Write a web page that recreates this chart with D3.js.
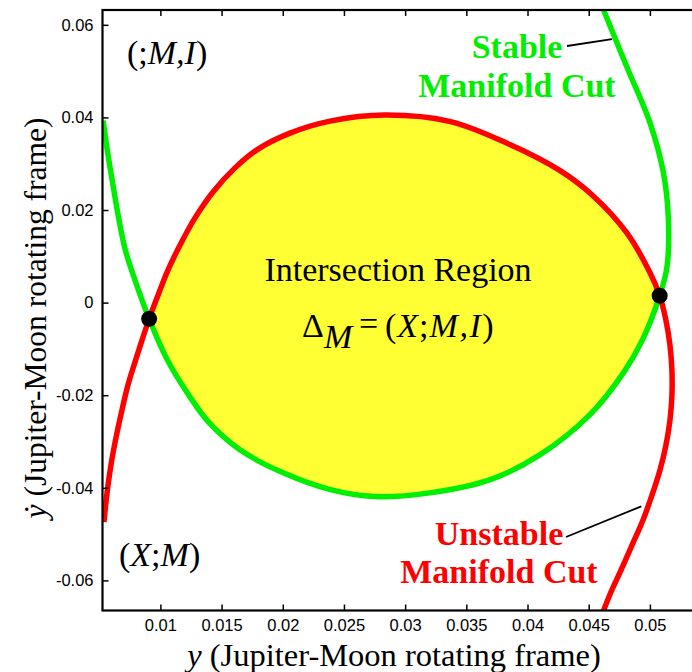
<!DOCTYPE html>
<html>
<head>
<meta charset="utf-8">
<script src="https://cdn.jsdelivr.net/npm/d3@7"></script>
<style>
  body { margin: 0; background: #fff; }
  svg { display: block; }
</style>
</head>
<body>
<svg id="chart" width="692" height="672"></svg>
<script>
// Axis ticks
const xTicks = [0.01, 0.015, 0.02, 0.025, 0.03, 0.035, 0.04, 0.045, 0.05];
const xTickLabels = ["0.01", "0.015", "0.02", "0.025", "0.03", "0.035", "0.04", "0.045", "0.05"];
const yTicks = [-0.06, -0.04, -0.02, 0, 0.02, 0.04, 0.06];
const yTickLabels = ["-0.06", "-0.04", "-0.02", "0", "0.02", "0.04", "0.06"];

// Unstable manifold cut (y, ydot), bottom-left to bottom-right
const unstableCut = [
  [0.00539, -0.0474], [0.00564, -0.0411], [0.00596, -0.0351], [0.00637, -0.0292],
  [0.00686, -0.0232], [0.00735, -0.0178], [0.00793, -0.0128], [0.00850, -0.0081],
  [0.00908, -0.0035], [0.00981, 0.0016], [0.01062, 0.0070], [0.01160, 0.0124],
  [0.01283, 0.0183], [0.01430, 0.0239], [0.01610, 0.0291], [0.01789, 0.0330],
  [0.02059, 0.0366], [0.02386, 0.0392], [0.02835, 0.0405], [0.0337, 0.0391],
  [0.0386, 0.0341], [0.0426, 0.0286], [0.0453, 0.0232], [0.0481, 0.0151],
  [0.0500, 0.0065], [0.0508, 0.0015], [0.05131, -0.0038], [0.05164, -0.0092],
  [0.05180, -0.0146], [0.05180, -0.0200], [0.05164, -0.0254], [0.05131, -0.0308],
  [0.05082, -0.0362], [0.05017, -0.0416], [0.04943, -0.0470], [0.04854, -0.0524],
  [0.04764, -0.0578], [0.04682, -0.0625], [0.04617, -0.0668]
];

// Stable manifold cut (y, ydot), top-left to top-right
const stableCut = [
  [0.00532, 0.0393], [0.00565, 0.0331], [0.00605, 0.0266], [0.00654, 0.0190],
  [0.00712, 0.0115], [0.0081, 0.0035], [0.00908, -0.0035], [0.01055, -0.0123],
  [0.0124, -0.0203], [0.0140, -0.0260], [0.0165, -0.0318], [0.0198, -0.0365],
  [0.0239, -0.0404], [0.0275, -0.0419], [0.0320, -0.0411], [0.0369, -0.0383],
  [0.0410, -0.0329], [0.0451, -0.0242], [0.0479, -0.0149], [0.0494, -0.0080],
  [0.0508, 0.0015], [0.0514, 0.0078], [0.0515, 0.0186], [0.0511, 0.0281],
  [0.0500, 0.0389], [0.0481, 0.0510], [0.0462, 0.0633]
];

// Points where the two cuts cross
const crossings = [[0.00908, -0.0035], [0.0508, 0.0015]];

// Where the callout leaders touch each curve
const stableLeaderEnd = [0.0469, 0.0569];
const unstableLeaderEnd = [0.0493, -0.0440];

const svg = d3.select("#chart");
const plot = { left: 102.5, right: 691.5, top: 10, bottom: 610.5 };

const x = d3.scaleLinear().domain([0.00527, 0.0534]).range([plot.left, plot.right]);
const y = d3.scaleLinear().domain([-0.0665, 0.0632]).range([plot.bottom, plot.top]);

const serif = "'Liberation Serif', 'Times New Roman', serif";
const sans = "'Liberation Sans', Arial, Helvetica, sans-serif";

svg.append("defs").append("clipPath").attr("id", "plotClip")
  .append("rect")
  .attr("x", plot.left).attr("y", plot.top)
  .attr("width", 700 - plot.left).attr("height", plot.bottom - plot.top);

const line = d3.line()
  .x(d => x(d[0])).y(d => y(d[1]))
  .curve(d3.curveCatmullRom.alpha(0.5));

const same = (a, b) => a[0] === b[0] && a[1] === b[1];
const uA = unstableCut.findIndex(p => same(p, crossings[0]));
const uB = unstableCut.findIndex(p => same(p, crossings[1]));
const sA = stableCut.findIndex(p => same(p, crossings[0]));
const sB = stableCut.findIndex(p => same(p, crossings[1]));

const g = svg.append("g").attr("clip-path", "url(#plotClip)");

// Intersection region: upper boundary from the unstable cut, lower from the stable cut
const upper = unstableCut.slice(uA, uB + 1);
const lower = stableCut.slice(sA, sB + 1);
g.append("path")
  .attr("d", line(upper) + line(lower.slice().reverse()).replace(/^M/, "L") + "Z")
  .attr("fill", "#ffff33")
  .attr("stroke", "none");

g.append("path")
  .attr("d", line(stableCut))
  .attr("fill", "none")
  .attr("stroke", "#00ee00")
  .attr("stroke-width", 5.5);

g.append("path")
  .attr("d", line(unstableCut))
  .attr("fill", "none")
  .attr("stroke", "#ff0000")
  .attr("stroke-width", 5.5);

g.selectAll("circle.crossing")
  .data(crossings)
  .join("circle")
  .attr("class", "crossing")
  .attr("cx", d => x(d[0])).attr("cy", d => y(d[1]))
  .attr("r", 8)
  .attr("fill", "#000");

// Axes with inward ticks
const styleAxis = sel => {
  sel.select(".domain").remove();
  sel.selectAll(".tick line").attr("stroke", "#000").attr("stroke-width", 1.5);
  sel.selectAll(".tick text").attr("fill", "#000").style("font-family", sans).style("font-size", "16.5px");
};

svg.append("g")
  .attr("transform", `translate(0,${plot.bottom})`)
  .call(d3.axisBottom(x).tickValues(xTicks).tickFormat((d, i) => xTickLabels[i])
    .tickSizeInner(-6).tickSizeOuter(0).tickPadding(9))
  .call(styleAxis);

svg.append("g")
  .attr("transform", `translate(0,${plot.top})`)
  .call(d3.axisTop(x).tickValues(xTicks).tickFormat("")
    .tickSizeInner(-6).tickSizeOuter(0))
  .call(styleAxis);

svg.append("g")
  .attr("transform", `translate(${plot.left},0)`)
  .call(d3.axisLeft(y).tickValues(yTicks).tickFormat((d, i) => yTickLabels[i])
    .tickSizeInner(-6).tickSizeOuter(0).tickPadding(9))
  .call(styleAxis);

// Frame
svg.append("rect")
  .attr("x", plot.left).attr("y", plot.top)
  .attr("width", 720 - plot.left).attr("height", plot.bottom - plot.top)
  .attr("fill", "none").attr("stroke", "#000").attr("stroke-width", 2.2);

// Axis titles
const xTitle = svg.append("text")
  .attr("x", 394).attr("y", 666)
  .attr("text-anchor", "middle")
  .style("font-family", serif).style("font-size", "32.5px");
xTitle.append("tspan").style("font-style", "italic").text("y");
xTitle.append("tspan").text(" (Jupiter-Moon rotating frame)");

const yTitle = svg.append("text")
  .attr("transform", "translate(46,318) rotate(-90)")
  .attr("text-anchor", "middle")
  .style("font-family", serif).style("font-size", "31.5px");
yTitle.append("tspan").style("font-style", "italic").text("y\u0307");
yTitle.append("tspan").text(" (Jupiter-Moon rotating frame)");

// Set labels (roman / italic runs, optional baseline shift and spacing)
function mathText(parent, xPos, yPos, parts, size, anchor) {
  const t = parent.append("text")
    .attr("x", xPos).attr("y", yPos)
    .attr("text-anchor", anchor || "start")
    .style("font-family", serif).style("font-size", size + "px");
  parts.forEach(p => {
    const s = t.append("tspan").text(p[0]);
    if (p[1]) s.style("font-style", "italic");
    if (p[2]) s.attr("baseline-shift", p[2]);
    if (p[3]) s.style("letter-spacing", p[3]);
  });
  return t;
}

mathText(svg, 127, 64, [["(;"], ["M,I", true], [")"]], 34);
mathText(svg, 119, 566, [["("], ["X", true], [";"], ["M", true], [")"]], 34);

mathText(svg, 398, 281, [["Intersection Region"]], 34, "middle");
mathText(svg, 302, 337, [
  ["\u0394"], ["M", true, "-11"], ["\u2009=\u2009", false, "2"],
  ["(", false, null, "1px"], ["X", true, null, "1px"], [";", false, null, "1px"],
  ["M,I", true, null, "1.5px"], [")"]
], 34);

// Manifold annotations
function callout(lines, cx, ys, color) {
  lines.forEach((s, i) => {
    svg.append("text")
      .attr("x", cx).attr("y", ys[i])
      .attr("text-anchor", "middle")
      .attr("fill", color)
      .style("font-family", serif).style("font-size", "34px").style("font-weight", "bold")
      .text(s);
  });
}
callout(["Stable", "Manifold Cut"], 517, [58, 97], "#00ee00");
callout(["Unstable", "Manifold Cut"], 499, [545, 583], "#ff0000");

svg.append("line")
  .attr("x1", 567).attr("y1", 46).attr("x2", x(stableLeaderEnd[0])).attr("y2", y(stableLeaderEnd[1]))
  .attr("stroke", "#000").attr("stroke-width", 1.8);
svg.append("line")
  .attr("x1", 566).attr("y1", 537).attr("x2", x(unstableLeaderEnd[0])).attr("y2", y(unstableLeaderEnd[1]))
  .attr("stroke", "#000").attr("stroke-width", 1.8);
</script>
</body>
</html>
